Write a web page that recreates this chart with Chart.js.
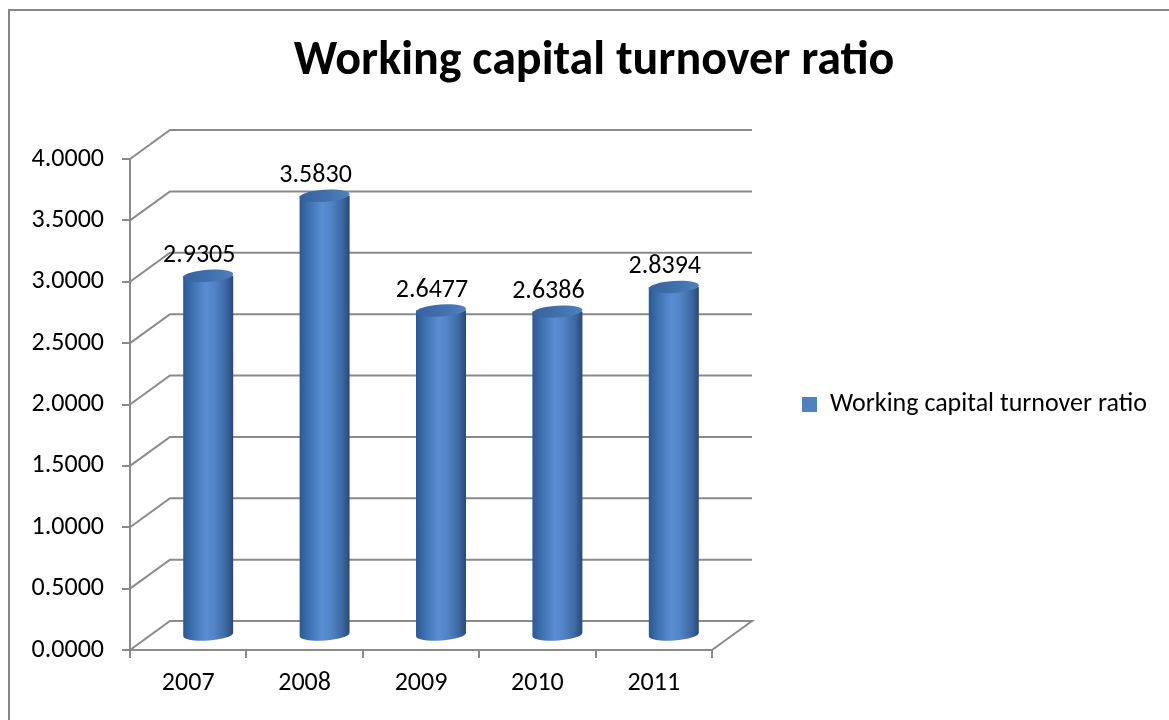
<!DOCTYPE html>
<html>
<head>
<meta charset="utf-8">
<title>Working capital turnover ratio</title>
<script src="https://cdn.jsdelivr.net/npm/chart.js@4.4.1/dist/chart.umd.min.js"></script>
<style>
  html, body { margin: 0; padding: 0; background: #fff; overflow: hidden; }
  canvas { display: block; }
</style>
</head>
<body>
<canvas id="wctr" width="1169" height="720"></canvas>
<script>
const years = ['2007', '2008', '2009', '2010', '2011'];
const ratios = [2.9305, 3.5830, 2.6477, 2.6386, 2.8394];
const seriesName = 'Working capital turnover ratio';
const chartTitle = 'Working capital turnover ratio';
const yMin = 0, yMax = 4, yStep = 0.5;

// fake 3D box: offset of the back wall, cylinders sit half way in
const DEPTH_X = 40, DEPTH_Y = -29;
const GRID = '#8a8a8a';
const FONT = "Calibri, Carlito, Lato, 'Open Sans', sans-serif";
const TEXT_SIZE = 26;

// plot box: y axis at x=130, right end of the floor at x=712
const PLOT_LEFT = 130, PLOT_RIGHT = 712;
const LEGEND_PAD = 90, LEGEND_BOX = 15;

Chart.defaults.font.family = FONT;
Chart.defaults.color = '#000';

// size the right padding so the legend column starts where the plot ends
const m = document.createElement('canvas').getContext('2d');
m.font = TEXT_SIZE + 'px ' + FONT;
const legendWidth = LEGEND_PAD + LEGEND_BOX + TEXT_SIZE / 2 + m.measureText(seriesName).width + 10;
const padRight = Math.max(0, 1169 - PLOT_RIGHT - legendWidth);
const padLeft = padRight + 19;

const box3d = {
    id: 'box3d',
    beforeDraw(chart) {
        const ctx = chart.ctx;
        ctx.save();
        ctx.strokeStyle = '#868686';
        ctx.lineWidth = 2;
        ctx.strokeRect(9, 10, 1400, 1000);
        ctx.restore();
    },
    beforeDatasetsDraw(chart) {
        const {ctx, chartArea: a, scales: {y}} = chart;
        ctx.save();
        ctx.strokeStyle = GRID;
        ctx.lineWidth = 2;
        y.ticks.forEach(t => {
            const py = y.getPixelForValue(t.value);
            ctx.beginPath();
            ctx.moveTo(a.left, py);
            ctx.lineTo(a.left + DEPTH_X, py + DEPTH_Y);
            ctx.lineTo(a.right + DEPTH_X, py + DEPTH_Y);
            if (t.value === yMin) ctx.lineTo(a.right, py); // floor edge
            ctx.stroke();
        });
        ctx.restore();
    },
    // flat bars are replaced by the cylinders below
    beforeDatasetDraw() { return false; },
    afterDatasetsDraw(chart) {
        const ctx = chart.ctx;
        const meta = chart.getDatasetMeta(0);
        const tilt = -0.07, ry = 6;
        ctx.save();
        meta.data.forEach((bar, i) => {
            const {x, y, base, width} = bar.getProps(['x', 'y', 'base', 'width'], true);
            const cx = x + DEPTH_X / 2;
            const top = y + DEPTH_Y / 2;
            const bottom = base + DEPTH_Y / 2;
            const rx = width / 2;

            const side = ctx.createLinearGradient(cx - rx, 0, cx + rx, 0);
            side.addColorStop(0, '#2c5890');
            side.addColorStop(0.15, '#3a6cab');
            side.addColorStop(0.45, '#5a8ed2');
            side.addColorStop(0.62, '#5284c6');
            side.addColorStop(0.85, '#3d69a3');
            side.addColorStop(1, '#2a4877');
            ctx.fillStyle = side;
            ctx.beginPath();
            ctx.moveTo(cx - rx, top);
            ctx.ellipse(cx, bottom, rx, ry, tilt, Math.PI, 0, true);
            ctx.lineTo(cx + rx, top);
            ctx.closePath();
            ctx.fill();

            const cap = ctx.createLinearGradient(cx - rx, top, cx + rx, top);
            cap.addColorStop(0, '#37629c');
            cap.addColorStop(0.6, '#4372b0');
            cap.addColorStop(1, '#4f80c0');
            ctx.fillStyle = cap;
            ctx.beginPath();
            ctx.ellipse(cx, top, rx, ry, tilt, 0, Math.PI * 2);
            ctx.fill();

            ctx.fillStyle = '#000';
            ctx.font = TEXT_SIZE + 'px ' + FONT;
            ctx.textAlign = 'center';
            ctx.textBaseline = 'middle';
            ctx.fillText(ratios[i].toFixed(4), x + 11, top - 20);
        });
        ctx.restore();
    }
};

new Chart(document.getElementById('wctr'), {
    type: 'bar',
    data: {
        labels: years,
        datasets: [{
            label: seriesName,
            data: ratios,
            backgroundColor: '#4f81bd',
            barPercentage: 0.43,
            categoryPercentage: 1
        }]
    },
    options: {
        responsive: false,
        animation: false,
        layout: { padding: { left: padLeft, right: padRight, top: 0, bottom: 0 } },
        plugins: {
            title: {
                display: true,
                text: chartTitle,
                color: '#000',
                font: { size: 48, weight: 'bold' },
                padding: { top: 33, bottom: 68.4 }
            },
            legend: {
                position: 'right',
                fullSize: false,
                maxWidth: Math.ceil(legendWidth) + 2,
                labels: {
                    boxWidth: LEGEND_BOX,
                    boxHeight: LEGEND_BOX,
                    padding: LEGEND_PAD,
                    color: '#000',
                    font: { size: TEXT_SIZE }
                }
            },
            tooltip: { enabled: false }
        },
        scales: {
            x: {
                grid: { drawOnChartArea: false, offset: true, tickLength: 8, color: GRID, lineWidth: 2 },
                border: { color: GRID, width: 2 },
                ticks: { padding: 10, color: '#000', font: { size: TEXT_SIZE } },
                afterFit(s) { s.height = 70; }
            },
            y: {
                min: yMin,
                max: yMax,
                grid: { drawOnChartArea: false, tickLength: 8, color: GRID, lineWidth: 2 },
                border: { color: GRID, width: 2 },
                ticks: {
                    stepSize: yStep,
                    padding: 18,
                    color: '#000',
                    font: { size: TEXT_SIZE },
                    callback: v => v.toFixed(4)
                },
                afterFit(s) { s.width = PLOT_LEFT - padLeft; }
            }
        }
    },
    plugins: [box3d]
});
</script>
</body>
</html>
